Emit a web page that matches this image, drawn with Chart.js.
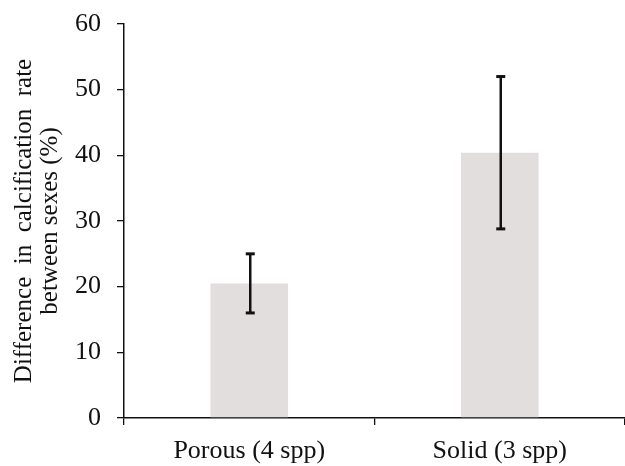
<!DOCTYPE html>
<html>
<head>
<meta charset="utf-8">
<script src="https://cdn.jsdelivr.net/npm/chart.js@4.4.0/dist/chart.umd.min.js"></script>
<style>
 html,body{margin:0;padding:0;background:#fff;}
 #wrap{width:625px;height:466px;}
</style>
</head>
<body>
<div id="wrap"><canvas id="grafico" width="625" height="466"></canvas></div>
<script>
// datos
const categorias=['Porous (4 spp)','Solid (3 spp)'];
const valores=[20.5,40.4];
const errInf=[16.0,28.8];
const errSup=[25.0,52.0];
const ticksY=[0,10,20,30,40,50,60];

const FUENTE='"Liberation Serif","Times New Roman",serif';

// barras de error dibujadas con las escalas del grafico
const barrasError={
 id:'barrasError',
 afterDatasetsDraw(chart){
  const ctx=chart.ctx, x=chart.scales.x, y=chart.scales.y;
  ctx.save();
  ctx.strokeStyle='#111';
  categorias.forEach((c,i)=>{
   const px=x.getPixelForValue(i)+1;
   const y1=y.getPixelForValue(errInf[i]);
   const y2=y.getPixelForValue(errSup[i]);
   ctx.lineWidth=2.5;
   ctx.beginPath();ctx.moveTo(px,y1);ctx.lineTo(px,y2);ctx.stroke();
   ctx.lineWidth=3;
   [y1,y2].forEach(yy=>{
    ctx.beginPath();ctx.moveTo(px-4.5,yy);ctx.lineTo(px+4.5,yy);ctx.stroke();
   });
  });
  ctx.restore();
 }
};

new Chart(document.getElementById('grafico').getContext('2d'),{
 type:'bar',
 data:{
  labels:categorias,
  datasets:[{
   data:valores,
   backgroundColor:'#e3dede',
   borderWidth:0,
   categoryPercentage:1,
   barPercentage:0.31
  }]
 },
 options:{
  responsive:false,
  animation:false,
  events:[],
  layout:{padding:{top:24,right:0,bottom:0,left:0}},
  plugins:{legend:{display:false},tooltip:{enabled:false}},
  scales:{
   x:{
    offset:true,
    grid:{display:true,drawOnChartArea:false,drawTicks:true,tickLength:7,color:'#111',lineWidth:1.3,offset:true},
    border:{display:true,color:'#111',width:1.5},
    ticks:{color:'#111',font:{family:FUENTE,size:26},padding:11,maxRotation:0},
    afterFit(s){s.height=48;s.paddingLeft=0;s.paddingRight=0;}
   },
   y:{
    min:0,max:60,
    afterBuildTicks(s){s.ticks=ticksY.map(v=>({value:v}));},
    grid:{display:true,drawOnChartArea:false,drawTicks:true,tickLength:7,color:'#111',lineWidth:1.3},
    border:{display:true,color:'#111',width:1.5},
    ticks:{color:'#111',font:{family:FUENTE,size:26},padding:16},
    title:{
     display:true,
     text:['Difference  in  calcification  rate','between sexes (%)'],
     color:'#111',
     font:{family:FUENTE,size:25,lineHeight:1.02},
     padding:{top:12,bottom:0}
    },
    afterFit(s){s.width=124;s.paddingTop=0;s.paddingBottom=0;}
   }
  }
 },
 plugins:[barrasError]
});
</script>
</body>
</html>
